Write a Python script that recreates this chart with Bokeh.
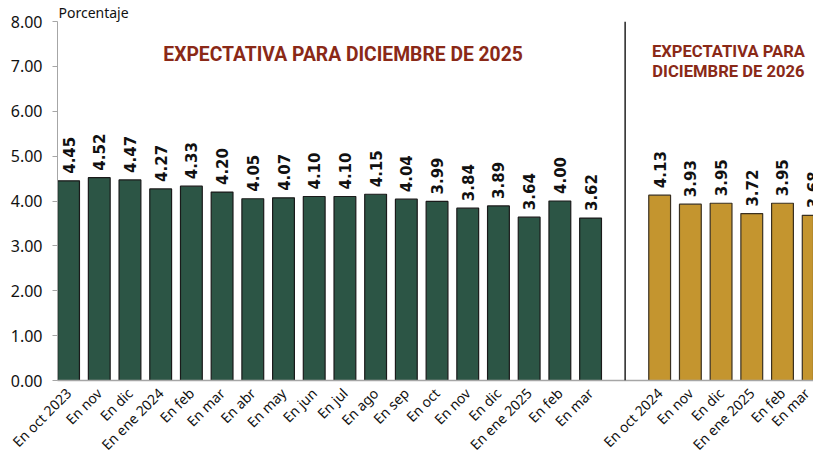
from bokeh.plotting import figure
from bokeh.models import (ColumnDataSource, FixedTicker, Span, Range1d,
                          NumeralTickFormatter)
from bokeh.core.properties import value
from bokeh.embed import file_html
from bokeh.resources import INLINE

# ---- data ----
labels_2025 = ["En oct 2023", "En nov", "En dic", "En ene 2024", "En feb", "En mar",
               "En abr", "En may", "En jun", "En jul", "En ago", "En sep", "En oct",
               "En nov", "En dic", "En ene 2025", "En feb", "En mar"]
values_2025 = [4.45, 4.52, 4.47, 4.27, 4.33, 4.20, 4.05, 4.07, 4.10, 4.10, 4.15, 4.04,
               3.99, 3.84, 3.89, 3.64, 4.00, 3.62]
labels_2026 = ["En oct 2024", "En nov", "En dic", "En ene 2025", "En feb", "En mar"]
values_2026 = [4.13, 3.93, 3.95, 3.72, 3.95, 3.68]
y_ticks = [0, 1, 2, 3, 4, 5, 6, 7, 8]
title_2025 = ["EXPECTATIVA PARA DICIEMBRE DE 2025"]
title_2026 = ["EXPECTATIVA PARA", "DICIEMBRE DE 2026"]
unit_label = "Porcentaje"

GREEN = "#2C5545"
GOLD = "#C4952F"
TITLE_RED = "#8A2917"

gap = 1.25
x_2025 = [float(i) for i in range(len(values_2025))]
x_2026 = [len(values_2025) + gap + i for i in range(len(values_2026))]
sep_x = (x_2025[-1] + x_2026[0]) / 2

p = figure(width=813, height=464, output_backend="svg", toolbar_location=None,
           x_range=Range1d(-0.36, 24.26), y_range=Range1d(0, 8),
           min_border_left=57, min_border_right=0, min_border_top=0,
           min_border_bottom=84)
p.outline_line_color = None
p.xgrid.grid_line_color = None
p.ygrid.grid_line_color = None

p.title.text = unit_label
p.title.align = "left"
p.title.offset = 1
p.title.text_font = "Noto Sans"
p.title.text_font_style = "normal"
p.title.text_font_size = "14px"
p.title.text_line_height = 0.75
p.title.text_color = "#111111"
p.title.standoff = 0

src1 = ColumnDataSource(dict(x=x_2025, top=values_2025,
                             lab=["%.2f" % v for v in values_2025]))
src2 = ColumnDataSource(dict(x=x_2026, top=values_2026,
                             lab=["%.2f" % v for v in values_2026]))

p.vbar(x="x", top="top", width=0.71, bottom=0, source=src1,
       fill_color=GREEN, line_color="#1a1a1a", line_width=1.2)
p.vbar(x="x", top="top", width=0.71, bottom=0, source=src2,
       fill_color=GOLD, line_color="#3a3020", line_width=1.2)

for s in (src1, src2):
    p.text(x="x", y="top", text="lab", source=s, angle=1.5708,
           text_align="left", text_baseline="middle", y_offset=-7,
           text_font=value("DejaVu Sans"), text_font_style="bold",
           text_font_size="15px", text_color="#111111")

p.add_layout(Span(location=sep_x, dimension="height", line_color="#000000",
                  line_width=1.3))

# titles
p.text(x=[8.94], y=[7.27], text=title_2025, text_align="center",
       text_baseline="middle", text_font=value("Roboto"),
       text_font_style="bold", text_font_size="19.3px", text_color=TITLE_RED)
p.text(x=[21.49, 21.49], y=[7.335, 6.88], text=title_2026, text_align="center",
       text_baseline="middle", text_font=value("Roboto"),
       text_font_style="bold", text_font_size="16.6px", text_color=TITLE_RED)

# axes
p.yaxis.ticker = FixedTicker(ticks=y_ticks)
p.yaxis.formatter = NumeralTickFormatter(format="0.00")
p.yaxis.axis_line_color = "#a6a6a6"
p.yaxis.major_tick_line_color = "#a6a6a6"
p.yaxis.major_tick_out = 5
p.yaxis.major_tick_in = 0
p.yaxis.minor_tick_line_color = None
p.yaxis.major_label_text_font = "Noto Sans"
p.yaxis.major_label_text_font_size = "16px"
p.yaxis.major_label_text_color = "#111111"
p.yaxis.major_label_standoff = 10

all_x = x_2025 + x_2026
all_labels = labels_2025 + labels_2026
p.xaxis.ticker = FixedTicker(ticks=all_x)
p.xaxis.major_label_overrides = {x: l for x, l in zip(all_x, all_labels)}
p.xaxis.major_label_orientation = 0.7854
p.xaxis.axis_line_color = "#a6a6a6"
p.xaxis.axis_line_width = 1.5
p.xaxis.major_tick_line_color = None
p.xaxis.minor_tick_line_color = None
p.xaxis.major_label_text_font = "Noto Sans"
p.xaxis.major_label_text_font_size = "14px"
p.xaxis.major_label_text_color = "#111111"
p.xaxis.major_label_standoff = 4

open("out.html", "w").write(file_html(p, INLINE))
